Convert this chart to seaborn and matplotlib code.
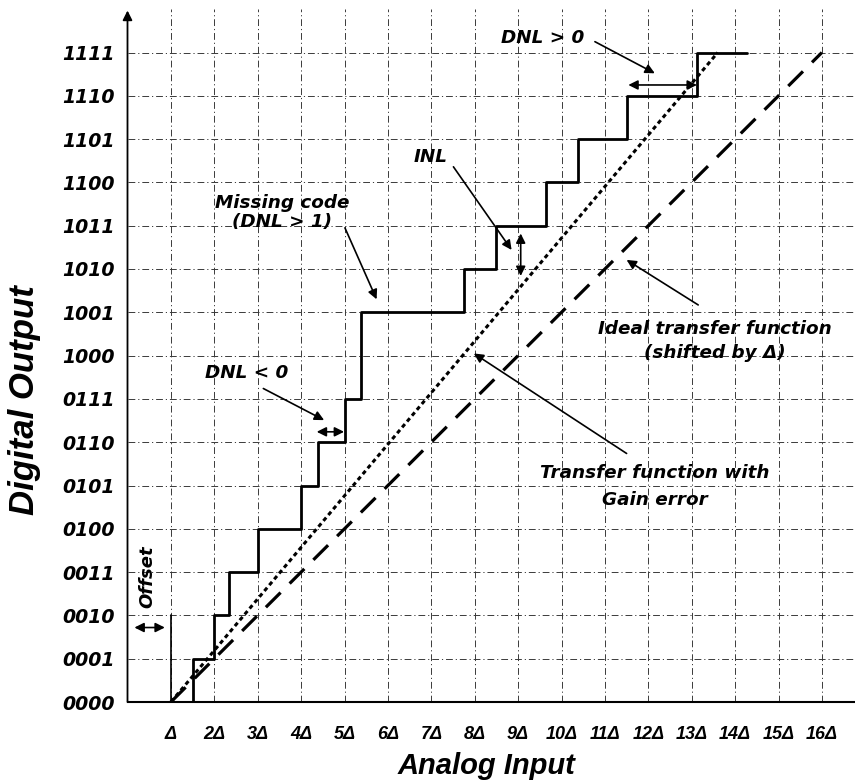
import matplotlib
matplotlib.use("Agg")
import matplotlib.pyplot as plt
import seaborn as sns

# ---------------- data ----------------
codes = ["0000", "0001", "0010", "0011", "0100", "0101", "0110", "0111",
         "1000", "1001", "1010", "1011", "1100", "1101", "1110", "1111"]
x_ticks = list(range(1, 17))
x_labels = ["Δ"] + [f"{i}Δ" for i in range(2, 17)]

# actual (non-ideal) ADC transfer step function: x edges and output code
step_x = [1, 1.5, 2, 2.35, 3, 4, 4.38, 5, 5.38, 7.75, 8.5, 9.64, 10.38, 11.5, 13.13, 14.27]
step_y = [0, 1, 2, 3, 4, 5, 6, 7, 9, 10, 11, 12, 13, 14, 15, 15]

ideal_x = [1, 16]
ideal_y = [0, 15]
gain_x = [1, 13.6]
gain_y = [0, 15]

# ---------------- figure ----------------
sns.set_style("white")
plt.rcParams["font.family"] = ["Liberation Sans", "DejaVu Sans"]
plt.rcParams["text.color"] = "black"
plt.rcParams["axes.labelcolor"] = "black"
plt.rcParams["xtick.color"] = "black"
plt.rcParams["ytick.color"] = "black"

fig = plt.figure(figsize=(8.55, 7.83), dpi=100)
ax = fig.add_axes([127.5 / 855, 81 / 783, (855 - 127.5) / 855, (702 - 9.2) / 783])
ax.set_xlim(0, 727.5 / 43.4)
ax.set_ylim(0, 16)

grid_style = dict(color="#3a3a3a", linewidth=0.7, linestyle=(0, (7, 3, 1.2, 3)))
ax.set_xticks(x_ticks)
ax.set_yticks(range(len(codes)))
ax.grid(True, **grid_style)
ax.set_axisbelow(True)

sns.lineplot(x=ideal_x, y=ideal_y, ax=ax, color="black", linewidth=2.3,
             linestyle=(0, (6.5, 4)), estimator=None, sort=False)
sns.lineplot(x=gain_x, y=gain_y, ax=ax, color="black", linewidth=2.2,
             linestyle=(0, (1.4, 1.1)), estimator=None, sort=False)
sns.lineplot(x=step_x, y=step_y, ax=ax, color="black", linewidth=2.0,
             drawstyle="steps-post", estimator=None, sort=False)

# spines
for s in ["top", "right", "left"]:
    ax.spines[s].set_visible(False)
ax.spines["bottom"].set_linewidth(1.5)
ax.spines["bottom"].set_color("black")
ax.annotate("", xy=(0, 15.97), xytext=(0, 0), annotation_clip=False,
            arrowprops=dict(arrowstyle="-|>", color="black", lw=1.3,
                            mutation_scale=14, shrinkA=0, shrinkB=0))

# ticks
ax.tick_params(axis="both", length=0, colors="black")
ax.tick_params(axis="x", pad=17)
ax.tick_params(axis="y", pad=9)
ax.set_xticklabels(x_labels, fontsize=13, fontweight="bold", fontstyle="italic",
                   family=["Liberation Sans", "DejaVu Sans"])
ax.set_yticklabels(codes, fontsize=13.6, fontweight="bold", fontstyle="italic",
                   family=["DejaVu Sans"])

ax.set_xlabel("Analog Input", fontsize=21, fontweight="bold", fontstyle="italic",
              color="black")
ax.set_ylabel("Digital Output", fontsize=25, fontweight="bold", fontstyle="italic",
              color="black")
ax.xaxis.set_label_coords(0.494, -0.092)
ax.xaxis.label.set_va("center")
ax.yaxis.set_label_coords(-0.141, 0.436)
ax.yaxis.label.set_va("center")

# annotations
tkw = dict(fontsize=13.2, fontweight="bold", fontstyle="italic", ha="center",
           va="baseline", color="black", family=["DejaVu Sans"])
ax.text(9.56, 15.21, "DNL > 0", **tkw)
ax.text(6.99, 12.48, "INL", **tkw)
ax.text(3.57, 11.41, "Missing code", **tkw)
ax.text(3.57, 10.97, "(DNL > 1)", **tkw)
ax.text(2.74, 7.48, "DNL < 0", **tkw)
ax.text(13.54, 8.51, "Ideal transfer function", **tkw)
ax.text(13.54, 7.94, "(shifted by Δ)", **tkw)
ax.text(12.15, 5.17, "Transfer function with", **tkw)
ax.text(12.15, 4.55, "Gain error", **tkw)
ax.text(0.46, 2.89, "Offset", fontsize=13, fontweight="bold", fontstyle="italic",
        ha="center", va="center", rotation=90, family=["DejaVu Sans"], color="black")

def arrow(tip, tail, style="-|>"):
    ax.annotate("", xy=tip, xytext=tail, annotation_clip=False,
                arrowprops=dict(arrowstyle=style, color="black", lw=1.2,
                                mutation_scale=14, shrinkA=0, shrinkB=0))

arrow((12.15, 14.52), (10.77, 15.25))
arrow((13.12, 14.25), (11.54, 14.25), "<|-|>")
arrow((8.85, 10.44), (7.51, 12.36))
arrow((9.06, 9.84), (9.06, 10.82), "<|-|>")
arrow((5.74, 9.30), (5.01, 10.95))
arrow((4.53, 6.51), (3.13, 7.24))
arrow((4.99, 6.24), (4.36, 6.24), "<|-|>")
arrow((11.50, 10.21), (13.15, 9.17))
arrow((7.98, 8.05), (11.50, 5.74))
arrow((0.86, 1.72), (0.16, 1.72), "<|-|>")

# offset marker line
ax.plot([1, 1], [0, 2], color="black", linewidth=1.2)

fig.savefig("out.png", dpi=100)
